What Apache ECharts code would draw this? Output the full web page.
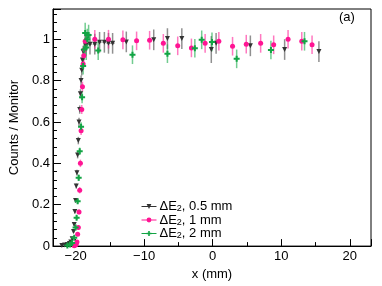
<!DOCTYPE html>
<html>
<head>
<meta charset="utf-8">
<script src="https://cdn.jsdelivr.net/npm/echarts@6/dist/echarts.min.js"></script>
<style>
  html, body { margin: 0; padding: 0; background: #fff; }
  #chart { width: 382px; height: 286px; }
</style>
</head>
<body>
<div id="chart"></div>
<script>
// dE2, 0.5 mm
var xBlack = [-22.0, -21.6, -21.2, -20.9, -20.7, -20.5, -20.3, -20.2, -20.1, -20.0, -19.9, -19.8, -19.7, -19.6, -19.5, -19.4, -19.3, -19.2, -19.1, -19.0, -18.9,
    -18.5, -17.9, -17.2, -16.5, -15.8, -15.2, -14.6, -12.6, -8.6, -6.6, -4.5, -0.2, 0.5, 5.5, 10.5, 15.5];
var yBlack = [0.003, 0.005, 0.008, 0.012, 0.02, 0.035, 0.07, 0.104, 0.167, 0.22, 0.29, 0.355, 0.44, 0.51, 0.6, 0.66, 0.736, 0.8, 0.85, 0.9, 0.94,
    0.97, 0.976, 0.976, 0.985, 0.985, 0.98, 0.98, 0.987, 0.997, 1.003, 1.003, 0.95, 0.98, 0.968, 0.95, 0.94];
var eBlack = [0.002, 0.002, 0.003, 0.003, 0.004, 0.005, 0.006, 0.008, 0.01, 0.01, 0.012, 0.014, 0.016, 0.018, 0.02, 0.02, 0.022, 0.024, 0.025, 0.026, 0.028,
    0.05, 0.05, 0.05, 0.05, 0.05, 0.05, 0.05, 0.05, 0.05, 0.05, 0.05, 0.065, 0.05, 0.05, 0.05, 0.05];
var xeBlack = [0, 0, 0, 0, 0, 0, 0, 0, 0, 0, 0, 0, 0, 0, 0, 0, 0, 0, 0, 0, 0,
    0.3, 0.3, 0.3, 0.3, 0.3, 0.3, 0.3, 0, 0, 0, 0, 0, 0, 0, 0, 0];

// dE2, 1 mm
var xPink = [-20.2, -20.0, -19.9, -19.8, -19.7, -19.6, -19.5, -19.4, -19.3, -19.2, -19.1, -19.0, -18.9, -18.8, -18.7, -18.6,
    -17.2, -15.2, -13.1, -11.1, -9.2, -7.2, -5.1, -3.1, -1.1, 0.9, 2.9, 4.9, 7.0, 8.9, 11.0, 13.0, 14.5];
var yPink = [0.002, 0.005, 0.01, 0.02, 0.057, 0.09, 0.165, 0.27, 0.4, 0.557, 0.66, 0.77, 0.88, 0.92, 0.95, 0.99,
    1.0, 1.0, 0.997, 0.992, 0.995, 0.98, 0.968, 0.958, 0.98, 0.99, 0.966, 0.976, 0.98, 0.973, 1.0, 0.99, 0.973];
var ePink = [0.002, 0.003, 0.004, 0.005, 0.008, 0.01, 0.012, 0.015, 0.018, 0.02, 0.022, 0.025, 0.028, 0.03, 0.035, 0.04,
    0.045, 0.045, 0.045, 0.045, 0.045, 0.045, 0.045, 0.045, 0.045, 0.045, 0.045, 0.045, 0.045, 0.045, 0.045, 0.045, 0.045];

// dE2, 2 mm
var xGreen = [-21.2, -20.8, -20.5, -20.2, -20.0, -19.85, -19.7, -19.55, -19.4, -19.2, -19.05, -18.9, -18.75, -18.6, -18.45, -18.3, -18.1,
    -16.7, -11.7, -6.6, -2.6, -1.6, -0.1, 3.5, 8.5, 13.4];
var yGreen = [0.003, 0.008, 0.015, 0.04, 0.09, 0.137, 0.217, 0.33, 0.458, 0.577, 0.72, 0.87, 0.95, 1.03, 0.96, 1.0, 1.02,
    0.945, 0.925, 0.93, 0.956, 0.997, 0.987, 0.905, 0.948, 0.99];
var eGreen = [0.002, 0.003, 0.004, 0.006, 0.008, 0.01, 0.012, 0.015, 0.018, 0.022, 0.03, 0.04, 0.05, 0.05, 0.06, 0.05, 0.05,
    0.045, 0.045, 0.045, 0.045, 0.045, 0.045, 0.045, 0.045, 0.045];

var names = ['ΔE{sub|2}, 0.5 mm', 'ΔE{sub|2}, 1 mm', 'ΔE{sub|2}, 2 mm'];
var seriesNames = ['dE2 0.5 mm', 'dE2 1 mm', 'dE2 2 mm'];

function pack(xs, ys, es, xes) {
    return xs.map(function (x, i) {
        return [x, ys[i], es[i], xes ? xes[i] : 0];
    });
}

function errorSeries(data, color) {
    return {
        type: 'custom',
        silent: true,
        data: data,
        z: 2,
        renderItem: function (params, api) {
            var x = api.value(0), y = api.value(1), e = api.value(2), xe = api.value(3);
            var lo = api.coord([x, y - e]);
            var hi = api.coord([x, y + e]);
            var children = [{
                type: 'line',
                shape: { x1: lo[0], y1: lo[1], x2: hi[0], y2: hi[1] },
                style: { stroke: color, lineWidth: 1.5 }
            }];
            if (xe > 0) {
                var l = api.coord([x - xe, y]);
                var r = api.coord([x + xe, y]);
                children.push({
                    type: 'line',
                    shape: { x1: l[0], y1: l[1], x2: r[0], y2: r[1] },
                    style: { stroke: color, lineWidth: 1 }
                });
            }
            return { type: 'group', children: children };
        }
    };
}

function markerSeries(name, data, color, symbol, size) {
    return {
        name: name,
        type: 'line',
        data: data.map(function (d) { return [d[0], d[1]]; }),
        symbol: symbol,
        symbolSize: size,
        showAllSymbol: true,
        z: 3,
        itemStyle: { color: color },
        lineStyle: { width: 0, opacity: 0 },
        emphasis: { disabled: true }
    };
}

var blackData = pack(xBlack, yBlack, eBlack, xeBlack);
var pinkData = pack(xPink, yPink, ePink);
var greenData = pack(xGreen, yGreen, eGreen);

var triDown = 'path://M0,0L10,0L5,9Z';
var plus = 'path://M3,0H6V3H9V6H6V9H3V6H0V3H3Z';

var font = 'Liberation Sans, Arial, Helvetica, sans-serif';

var chart = echarts.init(document.getElementById('chart'));
var option = {
    animation: false,
    backgroundColor: '#fff',
    textStyle: { fontFamily: font },
    grid: { left: 45, right: 11, top: 9, bottom: 34, show: true, borderColor: '#000', borderWidth: 1 },
    xAxis: {
        type: 'value',
        min: -23.3,
        max: 23.1,
        name: 'x (mm)',
        nameLocation: 'middle',
        nameGap: 17,
        nameTextStyle: { fontSize: 13, color: '#000', fontFamily: font },
        splitLine: { show: false },
        axisLine: { onZero: false, lineStyle: { color: '#000' } },
        axisTick: { inside: true, length: 7, lineStyle: { color: '#000' } },
        minorTick: { show: true, splitNumber: 2, length: 4, lineStyle: { color: '#000' } },
        axisLabel: {
            fontSize: 13, color: '#000', fontFamily: font, margin: 4,
            showMinLabel: false, showMaxLabel: false,
            formatter: function (v) {
                if (Math.abs(v % 10) > 1e-6) return '';
                return String(v).replace('-', '\u2212');
            }
        }
    },
    yAxis: {
        type: 'value',
        min: 0,
        max: 1.146,
        interval: 0.2,
        name: 'Counts / Monitor',
        nameLocation: 'middle',
        nameGap: 30,
        nameTextStyle: { fontSize: 13, color: '#000', fontFamily: font },
        splitLine: { show: false },
        axisLine: { onZero: false, lineStyle: { color: '#000' } },
        axisTick: { inside: true, length: 8, lineStyle: { color: '#000' } },
        minorTick: { show: true, splitNumber: 5, length: 4, lineStyle: { color: '#000' } },
        axisLabel: {
            fontSize: 13, color: '#000', fontFamily: font, margin: 3,
            showMaxLabel: false,
            formatter: function (v) { return v > 1.05 ? '' : String(Math.round(v * 10) / 10); }
        }
    },
    legend: {
        orient: 'vertical',
        left: 136,
        top: 195,
        itemWidth: 15,
        itemHeight: 6,
        itemGap: 0,
        selectedMode: false,
        data: seriesNames,
        lineStyle: { width: 1, opacity: 1 },
        formatter: function (n) { return names[seriesNames.indexOf(n)]; },
        textStyle: {
            fontSize: 13, color: '#000', fontFamily: font, padding: [0, 0, 0, -2],
            rich: { sub: { fontSize: 9, verticalAlign: 'bottom', padding: [5, 0, 0, 0], fontFamily: font } }
        }
    },
    graphic: [{
        type: 'text',
        left: 339,
        top: 11,
        style: { text: '(a)', fontSize: 13, fill: '#000', fontFamily: font }
    }],
    series: [
        errorSeries(blackData, 'rgba(70,70,70,0.6)'),
        markerSeries(seriesNames[0], blackData, '#333', triDown, 5),
        errorSeries(pinkData, 'rgba(255,30,150,0.6)'),
        markerSeries(seriesNames[1], pinkData, '#ff1493', 'circle', 5),
        errorSeries(greenData, 'rgba(20,170,70,0.6)'),
        markerSeries(seriesNames[2], greenData, '#12a444', plus, 6)
    ]
};
chart.setOption(option);
</script>
</body>
</html>
